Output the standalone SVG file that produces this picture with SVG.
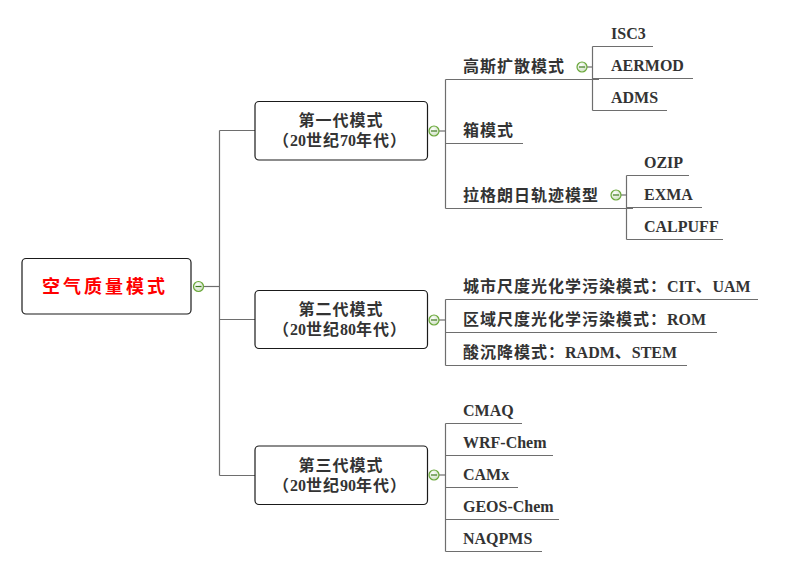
<svg xmlns="http://www.w3.org/2000/svg" width="788" height="570" viewBox="0 0 788 570">
<style>
  .bg{fill:#ffffff}
  .box{fill:#ffffff;stroke:#1a1a1a;stroke-width:1.2}
  .ln{fill:none;stroke:#6e6e6e;stroke-width:1.2}
  .t{font-family:"Liberation Serif","Noto Sans CJK SC",serif;font-size:16px;font-weight:bold;fill:#333333}
  .c{letter-spacing:1px}
  .root{font-family:"Liberation Serif","Noto Sans CJK SC",serif;font-size:18px;font-weight:bold;fill:#ff0000;letter-spacing:3px}
  .mid{text-anchor:middle}
</style>
<defs>
  <radialGradient id="cg" cx="0.4" cy="0.35" r="0.7">
    <stop offset="0" stop-color="#ffffff"/>
    <stop offset="1" stop-color="#c9dcbc"/>
  </radialGradient>
  <g id="minus">
    <circle cx="0" cy="0" r="5" fill="url(#cg)" stroke="#6aa83a" stroke-width="1.2"/>
    <line x1="-3" y1="0" x2="3" y2="0" stroke="#3f7a1e" stroke-width="1.2"/>
  </g>
</defs>
<rect class="bg" x="0" y="0" width="788" height="570"/>

<g id="connectors">
  <!-- root -->
  <line class="ln" x1="204" y1="286.5" x2="219.5" y2="286.5"/>
  <line class="ln" x1="219.5" y1="130.5" x2="219.5" y2="475.5"/>
  <line class="ln" x1="219.5" y1="130.5" x2="255" y2="130.5"/>
  <line class="ln" x1="219.5" y1="319.5" x2="255" y2="319.5"/>
  <line class="ln" x1="219.5" y1="475.5" x2="255" y2="475.5"/>
  <!-- gen 1 -->
  <line class="ln" x1="439" y1="131" x2="445.5" y2="131"/>
  <line class="ln" x1="445.5" y1="79.5" x2="445.5" y2="208.5"/>
  <line class="ln" x1="445.5" y1="79.5" x2="599" y2="79.5"/>
  <line class="ln" x1="445.5" y1="143.5" x2="523" y2="143.5"/>
  <line class="ln" x1="445.5" y1="208.5" x2="633" y2="208.5"/>
  <!-- gaussian children -->
  <line class="ln" x1="587" y1="67" x2="592.5" y2="67"/>
  <line class="ln" x1="592.5" y1="46.5" x2="592.5" y2="110.5"/>
  <line class="ln" x1="592.5" y1="46.5" x2="653" y2="46.5"/>
  <line class="ln" x1="592.5" y1="78.5" x2="693" y2="78.5"/>
  <line class="ln" x1="592.5" y1="110.5" x2="667" y2="110.5"/>
  <!-- lagrangian children -->
  <line class="ln" x1="621" y1="195" x2="626.5" y2="195"/>
  <line class="ln" x1="626.5" y1="175.5" x2="626.5" y2="239.5"/>
  <line class="ln" x1="626.5" y1="175.5" x2="689" y2="175.5"/>
  <line class="ln" x1="626.5" y1="207.5" x2="702" y2="207.5"/>
  <line class="ln" x1="626.5" y1="239.5" x2="723" y2="239.5"/>
  <!-- gen 2 -->
  <line class="ln" x1="439" y1="320" x2="445.5" y2="320"/>
  <line class="ln" x1="445.5" y1="299.5" x2="445.5" y2="365.5"/>
  <line class="ln" x1="445.5" y1="299.5" x2="758" y2="299.5"/>
  <line class="ln" x1="445.5" y1="332.5" x2="717" y2="332.5"/>
  <line class="ln" x1="445.5" y1="365.5" x2="687" y2="365.5"/>
  <!-- gen 3 -->
  <line class="ln" x1="439" y1="475" x2="445.5" y2="475"/>
  <line class="ln" x1="445.5" y1="423.5" x2="445.5" y2="551.5"/>
  <line class="ln" x1="445.5" y1="423.5" x2="522" y2="423.5"/>
  <line class="ln" x1="445.5" y1="455.5" x2="553" y2="455.5"/>
  <line class="ln" x1="445.5" y1="487.5" x2="518" y2="487.5"/>
  <line class="ln" x1="445.5" y1="519.5" x2="559" y2="519.5"/>
  <line class="ln" x1="445.5" y1="551.5" x2="542" y2="551.5"/>
</g>

<g id="root">
  <rect class="box" x="22" y="258.5" width="169" height="55.5" rx="4"/>
  <text class="root" x="42" y="293">空气质量模式</text>
  <use href="#minus" x="198.5" y="286.5"/>
</g>

<g id="gen1">
  <rect class="box" x="255" y="101.5" width="172.5" height="58.5" rx="4"/>
  <text class="t c mid" x="341" y="126">第一代模式</text>
  <text class="t mid" x="340" y="146"><tspan class="c">（</tspan>20<tspan class="c">世纪</tspan>70<tspan class="c">年代）</tspan></text>
  <use href="#minus" x="434" y="131"/>
</g>

<g id="gen2">
  <rect class="box" x="255" y="290.5" width="172.5" height="58" rx="4"/>
  <text class="t c mid" x="341" y="315">第二代模式</text>
  <text class="t mid" x="340" y="335"><tspan class="c">（</tspan>20<tspan class="c">世纪</tspan>80<tspan class="c">年代）</tspan></text>
  <use href="#minus" x="434" y="320"/>
</g>

<g id="gen3">
  <rect class="box" x="255" y="446" width="172.5" height="58.5" rx="4"/>
  <text class="t c mid" x="341" y="471">第三代模式</text>
  <text class="t mid" x="340" y="491"><tspan class="c">（</tspan>20<tspan class="c">世纪</tspan>90<tspan class="c">年代）</tspan></text>
  <use href="#minus" x="434" y="475"/>
</g>

<g id="gaussian">
  <text class="t c" x="463" y="72">高斯扩散模式</text>
  <use href="#minus" x="582" y="67"/>
</g>
<g id="isc3"><text class="t" x="611" y="39">ISC3</text></g>
<g id="aermod"><text class="t" x="611" y="71">AERMOD</text></g>
<g id="adms"><text class="t" x="611" y="103">ADMS</text></g>

<g id="box-model"><text class="t c" x="463" y="136">箱模式</text></g>

<g id="lagrangian">
  <text class="t c" x="463" y="201">拉格朗日轨迹模型</text>
  <use href="#minus" x="616" y="195"/>
</g>
<g id="ozip"><text class="t" x="644" y="168">OZIP</text></g>
<g id="exma"><text class="t" x="644" y="200">EXMA</text></g>
<g id="calpuff"><text class="t" x="644" y="232">CALPUFF</text></g>

<g id="urban"><text class="t" x="463" y="292"><tspan class="c">城市尺度光化学污染模式：</tspan>CIT<tspan class="c">、</tspan>UAM</text></g>
<g id="regional"><text class="t" x="463" y="325"><tspan class="c">区域尺度光化学污染模式：</tspan>ROM</text></g>
<g id="acid"><text class="t" x="463" y="358"><tspan class="c">酸沉降模式：</tspan>RADM<tspan class="c">、</tspan>STEM</text></g>

<g id="cmaq"><text class="t" x="463" y="416">CMAQ</text></g>
<g id="wrfchem"><text class="t" x="463" y="448">WRF-Chem</text></g>
<g id="camx"><text class="t" x="463" y="480">CAMx</text></g>
<g id="geoschem"><text class="t" x="463" y="512">GEOS-Chem</text></g>
<g id="naqpms"><text class="t" x="463" y="544">NAQPMS</text></g>
</svg>
